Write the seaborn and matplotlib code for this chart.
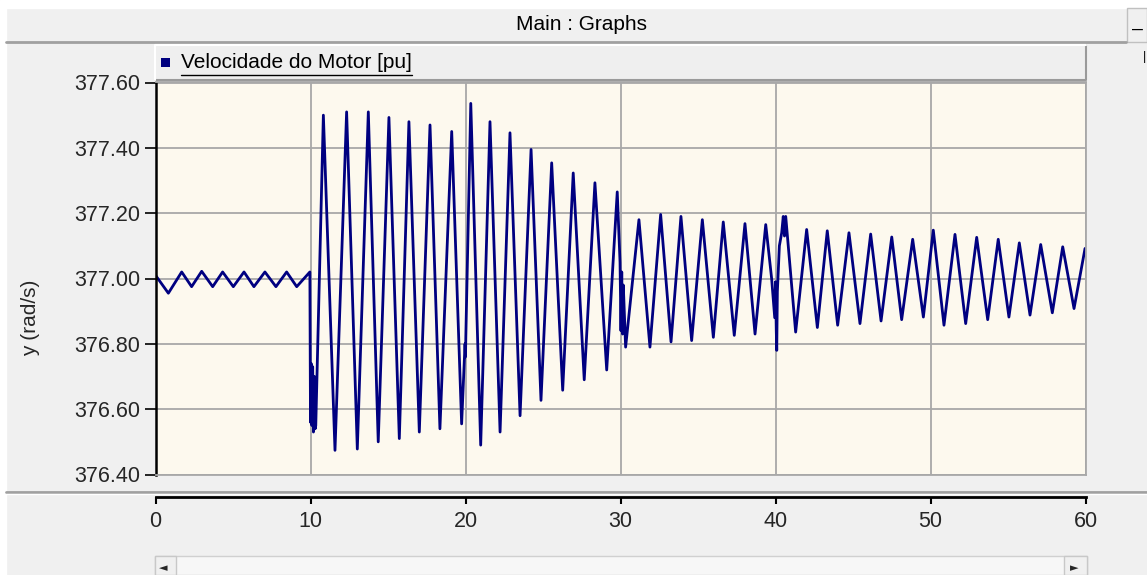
import numpy as np
import matplotlib
matplotlib.use("Agg")
import matplotlib.pyplot as plt
import seaborn as sns
from matplotlib.patches import Rectangle
from matplotlib.lines import Line2D

# valores (tempo [s], velocidade [rad/s])
t_pre = [0.0, 0.83, 1.69, 2.33, 2.98, 3.69, 4.33, 5.02, 5.71, 6.35, 7.06, 7.77, 8.46, 9.11, 9.96]
w_pre = [377.01, 376.955, 377.02, 376.975, 377.022, 376.975, 377.02, 376.975, 377.02, 376.975,
         377.02, 376.975, 377.02, 376.975, 377.02]

t_falta = [10.00, 10.04, 10.09, 10.14, 10.19, 10.25, 10.30, 10.34]
w_falta = [376.56, 376.74, 376.55, 376.73, 376.53, 376.70, 376.54, 376.55]

t_osc1 = [10.83, 11.58, 12.33, 13.02, 13.73, 14.37, 15.06, 15.73, 16.35, 17.02, 17.71, 18.35, 19.11, 19.75,
          19.97, 20.00, 20.02,
          20.34, 20.98, 21.58, 22.23, 22.87, 23.52, 24.23, 24.87, 25.56, 26.27, 26.95, 27.66, 28.35, 29.11, 29.79]
w_osc1 = [377.50, 376.474, 377.51, 376.478, 377.51, 376.50, 377.493, 376.51, 377.48, 376.53, 377.47, 376.54,
          377.45, 376.555,
          376.80, 376.76, 376.82,
          377.536, 376.49, 377.48, 376.53, 377.446, 376.58, 377.395, 376.627, 377.354, 376.658, 377.323,
          376.69, 377.293, 376.72, 377.265]

t_osc2 = [29.97, 30.03, 30.08, 30.13, 30.18, 30.33, 31.19, 31.90, 32.59, 33.26, 33.90, 34.59, 35.28, 35.99,
          36.63, 37.34, 38.03, 38.68, 39.37]
w_osc2 = [377.05, 376.84, 377.02, 376.83, 376.98, 376.79, 377.18, 376.79, 377.196, 376.806, 377.19, 376.81,
          377.18, 376.82, 377.173, 376.826, 377.168, 376.83, 377.165]

t_osc3 = [39.75, 39.95, 40.00, 40.05, 40.08, 40.12, 40.25, 40.40, 40.50, 40.58, 40.66,
          41.30, 42.01, 42.70, 43.34, 44.01, 44.74, 45.45, 46.14, 46.81, 47.50, 48.14, 48.85, 49.54]
w_osc3 = [377.00, 376.88, 376.99, 376.84, 376.78, 376.96, 377.10, 377.14, 377.19, 377.13, 377.19,
          376.836, 377.15, 376.85, 377.146, 376.857, 377.14, 376.862, 377.136, 376.87, 377.127, 376.874,
          377.12, 376.882]

t_osc4 = [50.18, 50.87, 51.58, 52.27, 52.98, 53.69, 54.37, 55.06, 55.73, 56.42, 57.11, 57.86, 58.53, 59.26, 59.97]
w_osc4 = [377.148, 376.857, 377.135, 376.862, 377.126, 376.874, 377.12, 376.882, 377.109, 376.888, 377.104,
          376.895, 377.097, 376.908, 377.092]

y_ticks = [376.40, 376.60, 376.80, 377.00, 377.20, 377.40, 377.60]
x_ticks = [0, 10, 20, 30, 40, 50, 60]

tempo = np.concatenate([t_pre, t_falta, t_osc1, t_osc2, t_osc3, t_osc4])
veloc = np.concatenate([w_pre, w_falta, w_osc1, w_osc2, w_osc3, w_osc4])

sns.set_style("white")
plt.rcParams['font.family'] = ['Liberation Sans', 'DejaVu Sans']

W, H = 1147, 575
fig = plt.figure(figsize=(W / 100, H / 100), dpi=100)
fig.patch.set_facecolor('#f0f0f0')

def fx(px):
    return px / W

def fy(py):
    return 1 - py / H

# faixas brancas (borda da janela)
fig.add_artist(Rectangle((0, fy(8)), 1, 8 / H, transform=fig.transFigure, color='white', zorder=0))
fig.add_artist(Rectangle((0, 0), fx(6), 1, transform=fig.transFigure, color='white', zorder=0))

# barra de titulo
fig.text(fx(582), fy(25), "Main : Graphs", ha='center', va='center', fontsize=15, color='black')
fig.add_artist(Line2D([fx(6), fx(1126)], [fy(42), fy(42)], transform=fig.transFigure, color='#a0a0a0', lw=2))
fig.add_artist(Rectangle((fx(1127), fy(42)), fx(20), 34 / H, transform=fig.transFigure,
                         facecolor='#f0f0f0', edgecolor='#c0c0c0', lw=1))
fig.text(fx(1138), fy(29), "\u2013", ha='center', va='center', fontsize=14, color='black')
fig.text(fx(1145), fy(57), "|", ha='center', va='center', fontsize=9, color='black')

# barra da legenda
fig.add_artist(Rectangle((fx(155), fy(80)), fx(1086 - 155), 35 / H, transform=fig.transFigure,
                         facecolor='#efefef', edgecolor='none'))
fig.add_artist(Line2D([fx(155), fx(1086), fx(1086)], [fy(80), fy(80), fy(45)],
                      transform=fig.transFigure, color='#9a9a9a', lw=1.5))
fig.add_artist(Line2D([fx(155), fx(155), fx(1086)], [fy(80), fy(45), fy(45)],
                      transform=fig.transFigure, color='white', lw=1.5))
fig.add_artist(Rectangle((fx(161), fy(67)), fx(9), 9 / H, transform=fig.transFigure,
                         facecolor='#000080', edgecolor='none'))
leg_txt = fig.text(fx(181), fy(63), "Velocidade do Motor [pu]", ha='left', va='center',
                   fontsize=15, color='black')

# area do grafico
ax = fig.add_axes([fx(155.5), fy(474.5), fx(930), 392 / H])
ax.set_facecolor('#fdf9ee')
sns.lineplot(x=tempo, y=veloc, ax=ax, color='#000080', linewidth=2.0, estimator=None, sort=False)
ax.set_xlim(0, 60)
ax.set_ylim(376.4, 377.6)
ax.set_xticks(x_ticks)
ax.set_yticks(y_ticks)
ax.set_yticklabels([f"{v:.2f}" for v in y_ticks], fontsize=15.5)
ax.set_xticklabels([])
ax.grid(True, color='#a8a8a8', lw=1.3)
ax.tick_params(axis='y', direction='out', length=8, width=1.2, color='black', pad=3, left=True)
ax.tick_params(axis='x', length=0)
for lado in ['top', 'right', 'bottom']:
    ax.spines[lado].set_color('#a8a8a8')
    ax.spines[lado].set_linewidth(1.3)
ax.spines['left'].set_color('black')
ax.spines['left'].set_linewidth(1.8)
ax.set_xlabel("")
ax.set_ylabel("")

fig.text(fx(31), fy(318), "y (rad/s)", rotation=90, ha='center', va='center', fontsize=15)

# separador e eixo x
fig.add_artist(Line2D([fx(6), 1], [fy(492), fy(492)], transform=fig.transFigure, color='#a0a0a0', lw=2))
fig.add_artist(Line2D([fx(6), 1], [fy(494), fy(494)], transform=fig.transFigure, color='white', lw=1))

ax2 = fig.add_axes([fx(155.5), fy(497), fx(930), 0.0001])
ax2.patch.set_visible(False)
ax2.set_xlim(0, 60)
ax2.set_xticks(x_ticks)
ax2.set_xticklabels([str(v) for v in x_ticks], fontsize=15.5)
ax2.set_yticks([])
for lado in ['top', 'right', 'left']:
    ax2.spines[lado].set_visible(False)
ax2.spines['bottom'].set_color('black')
ax2.spines['bottom'].set_linewidth(2)
ax2.tick_params(axis='x', direction='out', length=5, width=1.5, color='black', pad=5, bottom=True)

# barra de rolagem
fig.add_artist(Rectangle((fx(155), 0), fx(932), 19 / H, transform=fig.transFigure,
                         facecolor='#f7f7f7', edgecolor='#d0d0d0', lw=1))
fig.add_artist(Rectangle((fx(155), 0), fx(21), 19 / H, transform=fig.transFigure,
                         facecolor='#f0f0f0', edgecolor='#c8c8c8', lw=1))
fig.add_artist(Rectangle((fx(1064), 0), fx(23), 19 / H, transform=fig.transFigure,
                         facecolor='#f0f0f0', edgecolor='#c8c8c8', lw=1))
fig.text(fx(163), fy(568), "\u25c4", ha='center', va='center', fontsize=8, family='DejaVu Sans')
fig.text(fx(1074), fy(568), "\u25ba", ha='center', va='center', fontsize=8, family='DejaVu Sans')

# sublinhado da legenda
renderer = fig.canvas.get_renderer()
bb = leg_txt.get_window_extent(renderer=renderer)
fig.add_artist(Line2D([bb.x0 / W, bb.x1 / W], [fy(75), fy(75)], transform=fig.transFigure,
                      color='black', lw=1))

fig.savefig("out.png", dpi=100, facecolor=fig.get_facecolor())
